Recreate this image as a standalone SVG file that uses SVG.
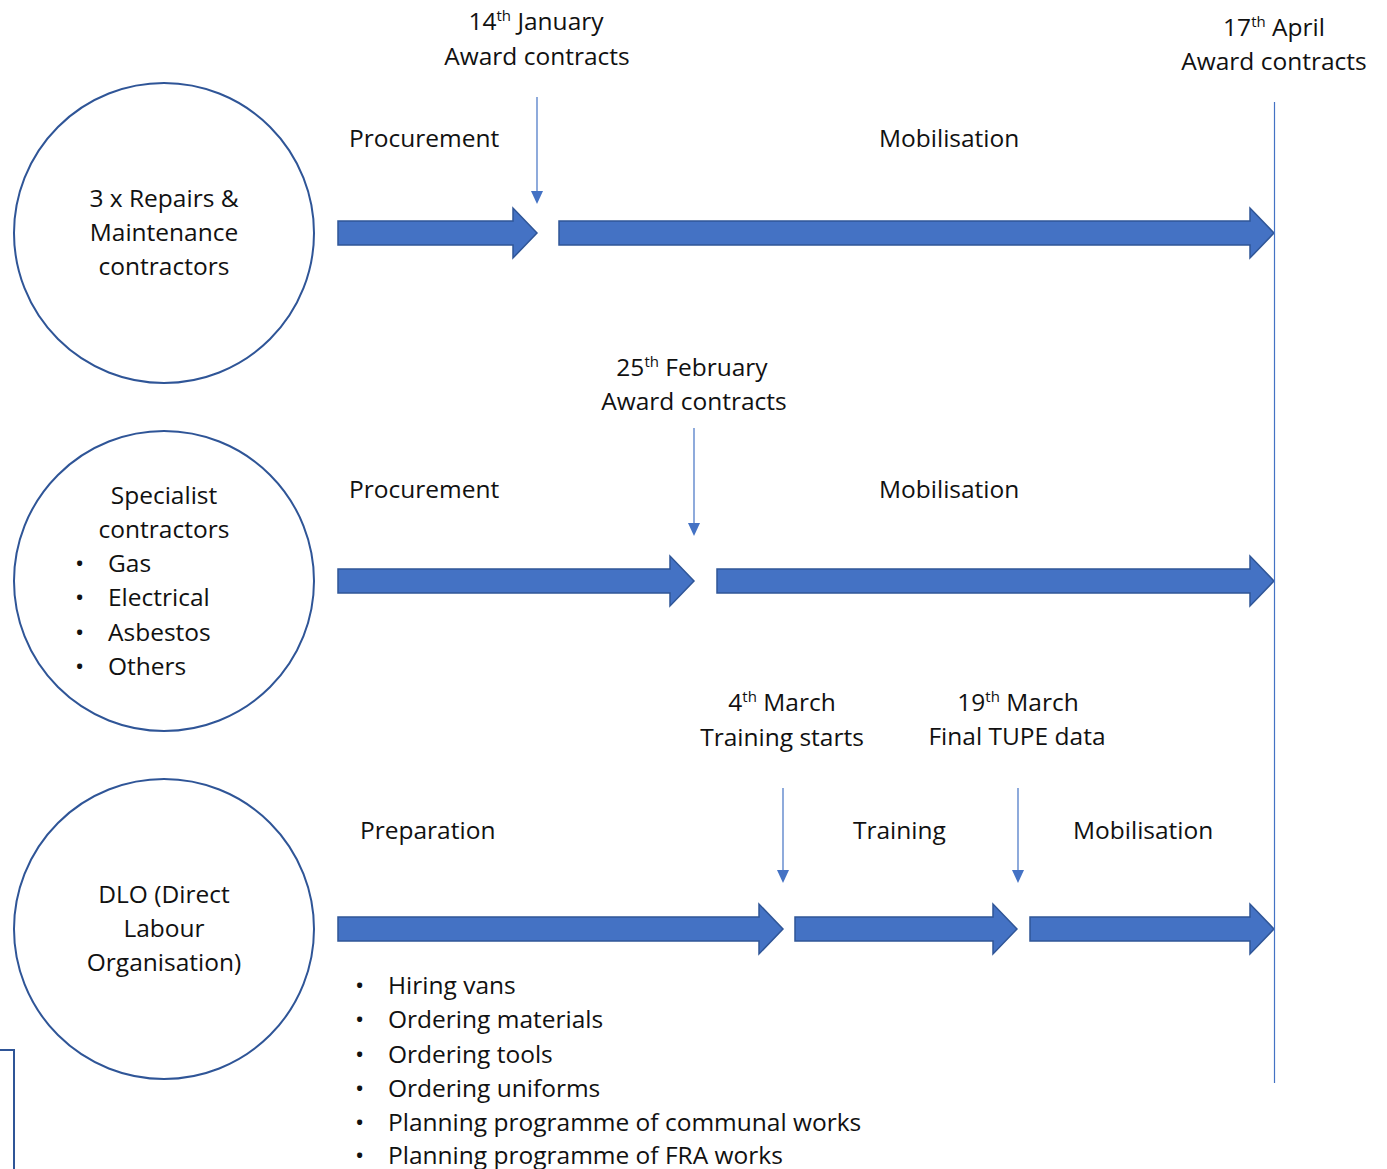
<svg xmlns="http://www.w3.org/2000/svg" width="1387" height="1169" viewBox="0 0 1387 1169">
<defs>
<style>
text{font-family:"Open Sans","Liberation Sans",sans-serif;font-size:24.5px;fill:#111}
.c{text-anchor:middle}
.sup{font-size:15px}
.node{fill:#fff;stroke:#2F5597;stroke-width:2}
.big{fill:#4472C4;stroke:#2F5597;stroke-width:1.5}
.pin{stroke:#4472C4;stroke-width:1.2;fill:none}
.pinh{fill:#4472C4}
</style>
</defs>
<rect width="1387" height="1169" fill="#fff"/>
<g id="node-repairs">
<circle class="node" cx="164" cy="233" r="150"/>
<text class="c" x="164" y="207">3 x Repairs &amp;</text>
<text class="c" x="164" y="241">Maintenance</text>
<text class="c" x="164" y="275">contractors</text>
</g>
<g id="node-specialist">
<circle class="node" cx="164" cy="581" r="150"/>
<text class="c" x="164" y="504">Specialist</text>
<text class="c" x="164" y="538">contractors</text>
<text x="75" y="572">•</text><text x="108" y="572">Gas</text>
<text x="75" y="606">•</text><text x="108" y="606">Electrical</text>
<text x="75" y="641">•</text><text x="108" y="641">Asbestos</text>
<text x="75" y="675">•</text><text x="108" y="675">Others</text>
</g>
<g id="node-dlo">
<circle class="node" cx="164" cy="929" r="150"/>
<text class="c" x="164" y="903">DLO (Direct</text>
<text class="c" x="164" y="937">Labour</text>
<text class="c" x="164" y="971">Organisation)</text>
</g>
<g id="labels">
<text class="c" x="536" y="30">14<tspan class="sup" dy="-9">th</tspan><tspan dy="9"> January</tspan></text>
<text class="c" x="537" y="65">Award contracts</text>
<text class="c" x="1274" y="36">17<tspan class="sup" dy="-9">th</tspan><tspan dy="9"> April</tspan></text>
<text class="c" x="1274" y="70">Award contracts</text>
<text x="349" y="147">Procurement</text>
<text x="879" y="147">Mobilisation</text>
<text class="c" x="692" y="376">25<tspan class="sup" dy="-9">th</tspan><tspan dy="9"> February</tspan></text>
<text class="c" x="694" y="410">Award contracts</text>
<text x="349" y="498">Procurement</text>
<text x="879" y="498">Mobilisation</text>
<text class="c" x="782" y="711">4<tspan class="sup" dy="-9">th</tspan><tspan dy="9"> March</tspan></text>
<text class="c" x="782" y="746">Training starts</text>
<text class="c" x="1018" y="711">19<tspan class="sup" dy="-9">th</tspan><tspan dy="9"> March</tspan></text>
<text class="c" x="1017" y="745">Final TUPE data</text>
<text x="360" y="839">Preparation</text>
<text x="853" y="839">Training</text>
<text x="1073" y="839">Mobilisation</text>
<text x="355" y="994">•</text><text x="388" y="994">Hiring vans</text>
<text x="355" y="1028">•</text><text x="388" y="1028">Ordering materials</text>
<text x="355" y="1063">•</text><text x="388" y="1063">Ordering tools</text>
<text x="355" y="1097">•</text><text x="388" y="1097">Ordering uniforms</text>
<text x="355" y="1131">•</text><text x="388" y="1131">Planning programme of communal works</text>
<text x="355" y="1164">•</text><text x="388" y="1164">Planning programme of FRA works</text>
</g>
<g id="connectors">
<path class="big" d="M338,221H513V208L537,233L513,258V245H338Z"/>
<path class="big" d="M559,221H1250V208L1274,233L1250,258V245H559Z"/>
<path class="big" d="M338,569H670V556L694,581L670,606V593H338Z"/>
<path class="big" d="M717,569H1250V556L1274,581L1250,606V593H717Z"/>
<path class="big" d="M338,917H759V904L783,929L759,954V941H338Z"/>
<path class="big" d="M795,917H993V904L1017,929L993,954V941H795Z"/>
<path class="big" d="M1030,917H1250V904L1274,929L1250,954V941H1030Z"/>
<line class="pin" x1="1274.5" y1="102" x2="1274.5" y2="1083"/>
<line class="pin" x1="537" y1="97" x2="537" y2="192"/><path class="pinh" d="M531,191H543L537,204Z"/>
<line class="pin" x1="694" y1="428" x2="694" y2="524"/><path class="pinh" d="M688,523H700L694,536Z"/>
<line class="pin" x1="783" y1="788" x2="783" y2="871"/><path class="pinh" d="M777,870H789L783,883Z"/>
<line class="pin" x1="1018" y1="788" x2="1018" y2="871"/><path class="pinh" d="M1012,870H1024L1018,883Z"/>
<path d="M0,1050H14V1169" fill="none" stroke="#2F5597" stroke-width="2"/>
</g>
</svg>
